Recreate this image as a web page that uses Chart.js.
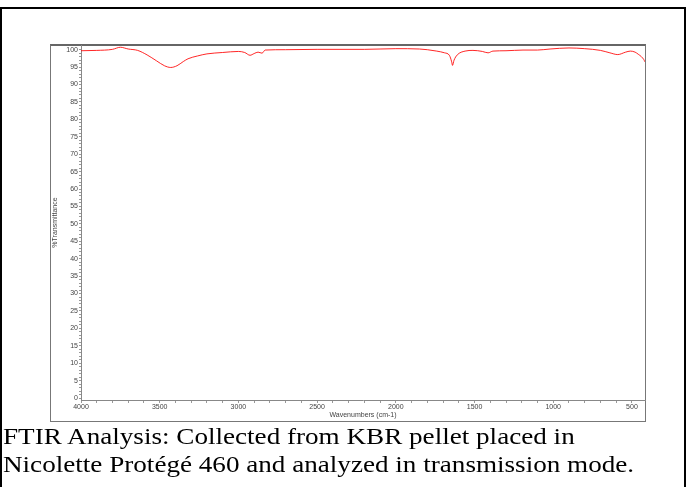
<!DOCTYPE html>
<html>
<head>
<meta charset="utf-8">
<script src="https://cdn.jsdelivr.net/npm/chart.js@4.4.1/dist/chart.umd.min.js"></script>
<style>
  html, body { margin: 0; padding: 0; background: #fff; }
  body { width: 686px; height: 487px; position: relative; overflow: hidden; }
  #outer { position: absolute; left: 0; top: 7px; width: 686px; height: 520px; box-sizing: border-box; border: 2px solid #000; }
  #frame { position: absolute; left: 50px; top: 44px; width: 596px; height: 378px; box-sizing: border-box; border: 1px solid #777; border-top: 2px solid #666; }
  #chartBox { position: absolute; left: 0; top: 0; }
  #caption { position: absolute; left: 3px; top: 422px; font-family: "Liberation Serif", "Times New Roman", serif; font-size: 24px; line-height: 28px; color: #000; white-space: nowrap; transform: scaleX(1.13); transform-origin: left top; }
</style>
</head>
<body>
<div id="outer"></div>
<div id="frame"></div>
<canvas id="chartBox" width="686" height="487"></canvas>
<div id="caption">FTIR Analysis: Collected from KBR pellet placed in<br>Nicolette Protégé 460 and analyzed in transmission mode.</div>
<script>
// wavenumber (cm-1) and %T
const wavenumbers = [4000, 3900, 3800, 3750, 3700, 3640, 3580, 3520, 3470, 3430, 3390, 3350, 3320, 3260, 3200, 3100, 3000, 2960, 2926, 2900, 2875, 2850, 2830, 2700, 2500, 2200, 2000, 1850, 1800, 1740, 1690, 1660, 1645, 1640, 1630, 1610, 1560, 1510, 1450, 1414, 1383, 1300, 1192, 1100, 1020, 900, 800, 700, 640, 590, 540, 510, 480, 460, 440, 425, 417];
const transmittance = [99.7, 99.8, 100.1, 100.7, 100.2, 99.8, 98.5, 96.8, 95.4, 94.9, 95.4, 96.6, 97.4, 98.2, 98.8, 99.2, 99.5, 99.2, 98.4, 98.9, 99.3, 99.0, 99.9, 100.0, 100.1, 100.1, 100.3, 100.2, 100.0, 99.6, 99.1, 98.4, 96.5, 95.5, 97.0, 98.5, 99.6, 99.8, 99.5, 99.1, 99.6, 99.7, 99.9, 99.9, 100.2, 100.5, 100.3, 99.8, 99.1, 98.6, 99.3, 99.6, 99.3, 98.7, 98.0, 97.2, 96.5];
const xTickLabels = [4000, 3500, 3000, 2500, 2000, 1500, 1000, 500];
const yTickLabels = [0, 5, 10, 15, 20, 25, 30, 35, 40, 45, 50, 55, 60, 65, 70, 75, 80, 85, 90, 95, 100];

const points = wavenumbers.map((w, i) => ({ x: w, y: transmittance[i] }));
const tickFont = { family: "Liberation Sans, Arial, sans-serif", size: 7 };

var ctx = document.getElementById("chartBox").getContext("2d");
var spectrum = new Chart(ctx, {
  type: "line",
  data: {
    datasets: [
      {
        data: points,
        borderColor: "rgba(255, 0, 0, 0.85)",
        borderWidth: 1,
        pointRadius: 0,
        cubicInterpolationMode: "monotone",
        fill: false,
      },
    ],
  },
  options: {
    responsive: false,
    animation: false,
    layout: { padding: { left: 51, top: 45, right: 41, bottom: 65 } },
    plugins: {
      legend: { display: false },
      tooltip: { enabled: false },
    },
    scales: {
      x: {
        type: "linear",
        reverse: true,
        min: 417,
        max: 4000,
        afterBuildTicks: (scale) => {
          const t = [];
          for (let v = 4000; v >= 500; v -= 100) t.push({ value: v });
          scale.ticks = t;
        },
        afterFit: (scale) => { scale.height = 22; },
        ticks: {
          autoSkip: false,
          maxRotation: 0,
          padding: 0,
          color: "#444",
          font: tickFont,
          callback: (v) => (xTickLabels.includes(v) ? String(v) : ""),
        },
        grid: { drawOnChartArea: false, tickLength: 3, color: "#999" },
        border: { display: true, color: "#888" },
        title: {
          display: true,
          text: "Wavenumbers (cm-1)",
          color: "#444",
          font: tickFont,
          padding: { top: 0, bottom: 3 },
        },
      },
      y: {
        min: -0.57,
        max: 101.35,
        afterBuildTicks: (scale) => {
          const t = [];
          for (let v = 0; v <= 100; v += 1) t.push({ value: v });
          scale.ticks = t;
        },
        afterFit: (scale) => { scale.width = 30; },
        ticks: {
          autoSkip: false,
          padding: 1,
          color: "#444",
          font: tickFont,
          callback: (v) => (yTickLabels.includes(v) ? String(v) : ""),
        },
        grid: { drawOnChartArea: false, tickLength: 2, color: "#999" },
        border: { display: true, color: "#888" },
        title: {
          display: true,
          text: "%Transmittance",
          color: "#444",
          font: tickFont,
          padding: 0,
        },
      },
    },
  },
});
</script>
</body>
</html>
